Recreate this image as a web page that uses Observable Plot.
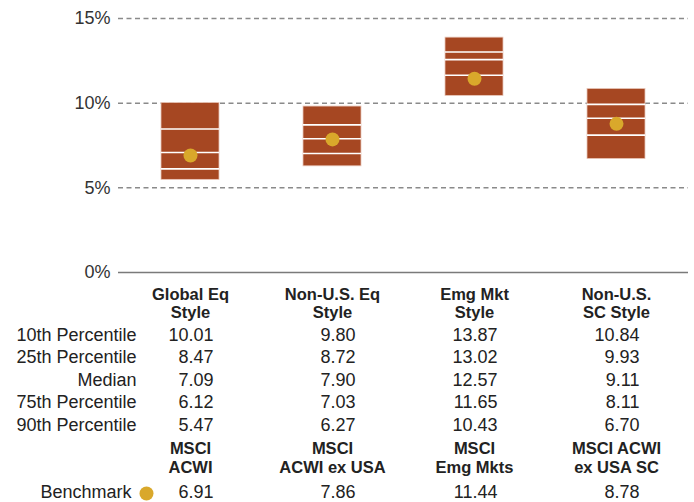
<!DOCTYPE html>
<html>
<head>
<meta charset="utf-8">
<script src="https://cdn.jsdelivr.net/npm/d3@7"></script>
<script src="https://cdn.jsdelivr.net/npm/@observablehq/plot@0.6"></script>
<style>
  html, body { margin: 0; padding: 0; background: #fff; }
</style>
</head>
<body>
<div id="chart"></div>
<script>
const categories = ["Global Eq Style", "Non-U.S. Eq Style", "Emg Mkt Style", "Non-U.S. SC Style"];
const headerLine1 = ["Global Eq", "Non-U.S. Eq", "Emg Mkt", "Non-U.S."];
const headerLine2 = ["Style", "Style", "Style", "SC Style"];
const p10 = [10.01, 9.80, 13.87, 10.84];
const p25 = [8.47, 8.72, 13.02, 9.93];
const median = [7.09, 7.90, 12.57, 9.11];
const p75 = [6.12, 7.03, 11.65, 8.11];
const p90 = [5.47, 6.27, 10.43, 6.70];
const benchLine1 = ["MSCI", "MSCI", "MSCI", "MSCI ACWI"];
const benchLine2 = ["ACWI", "ACWI ex USA", "Emg Mkts", "ex USA SC"];
const benchmark = [6.91, 7.86, 11.44, 8.78];
const rowLabels = ["10th Percentile", "25th Percentile", "Median", "75th Percentile", "90th Percentile"];
const yTicks = [0, 5, 10, 15];

const rows = categories.map((c, i) => ({
  cat: c, h1: headerLine1[i], h2: headerLine2[i],
  p10: p10[i], p25: p25[i], median: median[i], p75: p75[i], p90: p90[i],
  b1: benchLine1[i], b2: benchLine2[i], bench: benchmark[i]
}));
const innerLines = rows.flatMap(r => [r.p25, r.median, r.p75].map(v => ({cat: r.cat, v})));

const boxColor = "#A64722";
const dotColor = "#D9A82B";
const textColor = "#222";
const inset = 42;

// table row offsets below the 0% baseline
const valueKeys = ["p10", "p25", "median", "p75", "p90"];
const valueDy = [68, 90.5, 113, 135.5, 158];
const headFont = 16.5;

const marks = [
  Plot.ruleY(yTicks.filter(d => d > 0), {stroke: "#8a8a8a", strokeWidth: 1.5, strokeDasharray: "5,3.5"}),
  Plot.ruleY([0], {stroke: "#7a7a7a", strokeWidth: 1.5}),
  Plot.barY(rows, {x: "cat", y1: "p90", y2: "p10", fill: boxColor, stroke: "#e9c6b8", strokeWidth: 0.8, insetLeft: inset, insetRight: inset}),
  Plot.tickY(innerLines, {x: "cat", y: "v", stroke: "white", strokeWidth: 1.6, insetLeft: inset, insetRight: inset}),
  Plot.dot(rows, {x: "cat", y: "bench", r: 7, fill: dotColor}),
  // headers
  Plot.text(rows, {x: "cat", text: "h1", frameAnchor: "bottom", dy: 27, fontSize: headFont, fontWeight: "bold", fill: textColor}),
  Plot.text(rows, {x: "cat", text: "h2", frameAnchor: "bottom", dy: 45.5, fontSize: headFont, fontWeight: "bold", fill: textColor}),
  Plot.text(rows, {x: "cat", text: "b1", frameAnchor: "bottom", dy: 181, fontSize: headFont, fontWeight: "bold", fill: textColor}),
  Plot.text(rows, {x: "cat", text: "b2", frameAnchor: "bottom", dy: 200, fontSize: headFont, fontWeight: "bold", fill: textColor}),
  Plot.text(rows, {x: "cat", text: d => d.bench.toFixed(2), frameAnchor: "bottom", dy: 225, dx: 23, textAnchor: "end", fill: textColor}),
  Plot.text(["Benchmark"], {text: d => d, frameAnchor: "bottom-left", dx: 13, dy: 225, textAnchor: "end", fill: textColor}),
  Plot.dot(["Benchmark"], {frameAnchor: "bottom-left", dx: 28, dy: 221, r: 7, fill: dotColor})
];
valueKeys.forEach((k, j) => {
  marks.push(Plot.text(rows, {x: "cat", text: d => d[k].toFixed(2), frameAnchor: "bottom", dy: valueDy[j], dx: 23, textAnchor: "end", fill: textColor}));
  marks.push(Plot.text([rowLabels[j]], {text: d => d, frameAnchor: "bottom-left", dx: 18, dy: valueDy[j], textAnchor: "end", fill: textColor}));
});

const chart = Plot.plot({
  width: 694,
  height: 502,
  marginLeft: 118,
  marginRight: 6,
  marginTop: 18,
  marginBottom: 230,
  style: {fontFamily: "'Liberation Sans', Arial, sans-serif", fontSize: "18px", color: "#333", background: "#fff"},
  x: {domain: categories, padding: 0, axis: null},
  y: {domain: [0, 15], ticks: yTicks, tickFormat: d => d + "%", tickSize: 0, tickPadding: 8, label: null},
  marks
});
document.getElementById("chart").appendChild(chart);
</script>
</body>
</html>
